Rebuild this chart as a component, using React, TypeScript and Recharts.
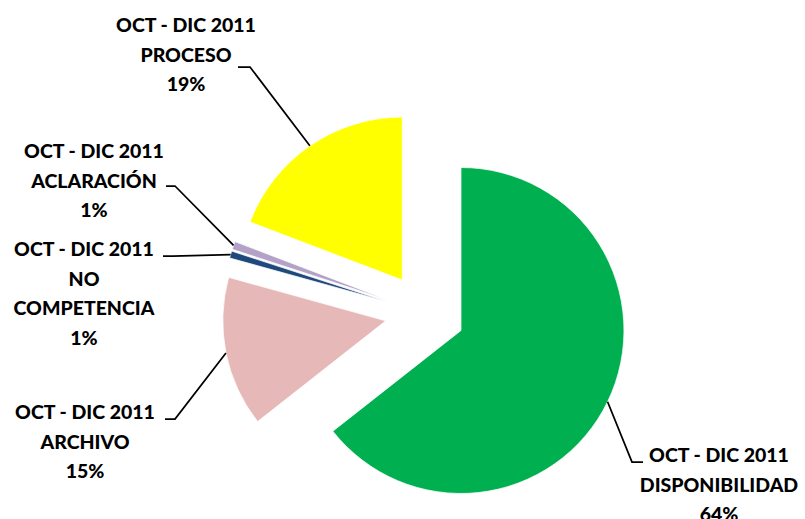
import { PieChart, Pie, Cell } from 'recharts';

const PERIOD = 'OCT - DIC 2011';
const CATEGORIES = ['DISPONIBILIDAD', 'ARCHIVO', 'NO COMPETENCIA', 'ACLARACIÓN', 'PROCESO'];
const VALUES = [64.4, 14.9, 0.7, 0.8, 19.2];
const COLORS = ['#00B050', '#E6B9B8', '#1F497D', '#B3A2C7', '#FFFF00'];

const data = CATEGORIES.map((name, i) => ({ name, value: VALUES[i] }));

const CX = 425;
const CY = 313;
const RADIUS = 163;
const EXPLODE = 40;
const RAD = Math.PI / 180;
const LINE_H = 29.5;
const FONT = 'Lato, "Open Sans", sans-serif';

const total = VALUES.reduce((a, b) => a + b, 0);

// every slice pulled out along its own mid angle (excel "explosion")
const offsets = VALUES.map((v, i) => {
  const before = VALUES.slice(0, i).reduce((a, b) => a + b, 0);
  const mid = 90 - (360 * (before + v / 2)) / total;
  return { dx: EXPLODE * Math.cos(mid * RAD), dy: -EXPLODE * Math.sin(mid * RAD) };
});

// where each data label sits: text center / first baseline, leader knee, end of the short tick
const LABELS = [
  { x: 719, y: 462, knee: [632, 462], end: 643, split: false },
  { x: 85, y: 419, knee: [175, 419], end: 165, split: false },
  { x: 84, y: 256, knee: [173, 256], end: 163, split: true },
  { x: 94, y: 158, knee: [175, 186], end: 166, split: false },
  { x: 186, y: 32, knee: [250, 67], end: 238, split: false },
];

const renderLabel = (slice: number) => (props: any) => {
  const { index, cx, cy, midAngle, outerRadius, percent, name } = props;
  if (index !== slice) return null;
  const l = LABELS[slice];
  const ax = cx + outerRadius * Math.cos(-midAngle * RAD);
  const ay = cy + outerRadius * Math.sin(-midAngle * RAD);
  const lines = [PERIOD, ...(l.split ? String(name).split(' ') : [name]), `${Math.round(percent * 100)}%`];
  return (
    <g>
      <polyline
        points={`${ax},${ay} ${l.knee[0]},${l.knee[1]} ${l.end},${l.knee[1]}`}
        fill="none"
        stroke="#000"
        strokeWidth={1.75}
      />
      <text x={l.x} y={l.y} textAnchor="middle" fill="#000" fontFamily={FONT} fontWeight={900} fontSize={19.5}>
        {lines.map((t, k) => (
          <tspan key={k} x={l.x} y={l.y + k * LINE_H}>
            {t}
          </tspan>
        ))}
      </text>
    </g>
  );
};

export default function App() {
  return (
    <div style={{ position: 'absolute', left: 0, top: 0 }}>
      <PieChart width={805} height={519} margin={{ top: 0, right: 0, bottom: 0, left: 0 }}>
        {offsets.map((o, s) => (
          <Pie
            key={s}
            data={data}
            dataKey="value"
            nameKey="name"
            cx={CX + o.dx}
            cy={CY + o.dy}
            outerRadius={RADIUS}
            startAngle={90}
            endAngle={-270}
            label={renderLabel(s)}
            labelLine={false}
            isAnimationActive={false}
          >
            {data.map((_, i) => (
              <Cell
                key={i}
                fill={i === s ? COLORS[i] : 'transparent'}
                stroke={i === s ? '#fff' : 'none'}
                strokeWidth={0.75}
              />
            ))}
          </Pie>
        ))}
      </PieChart>
    </div>
  );
}
